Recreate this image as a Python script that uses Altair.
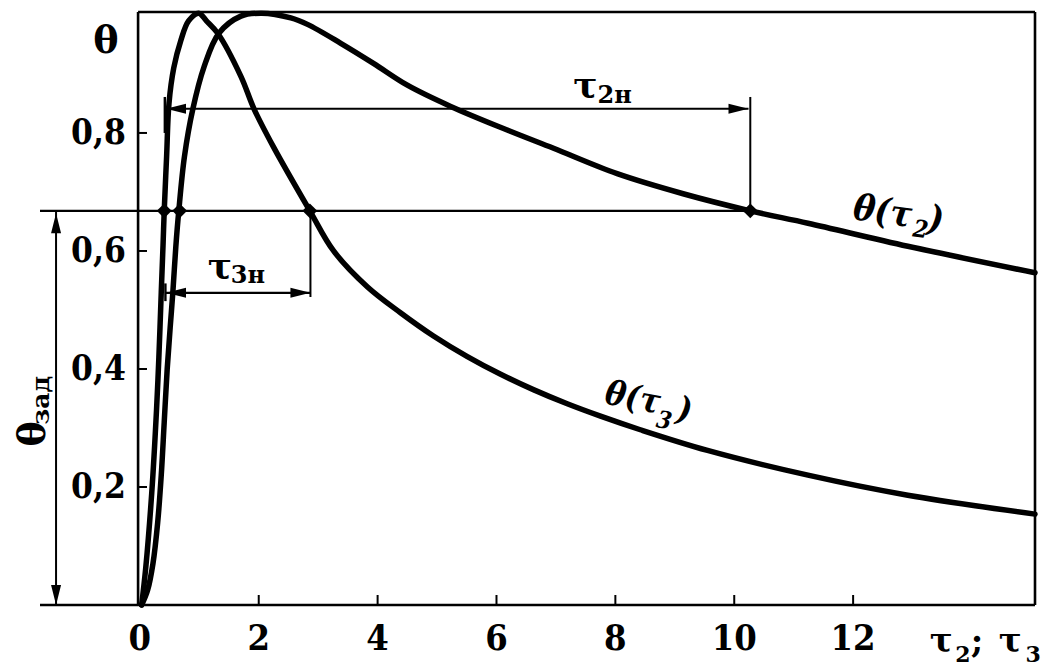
import altair as alt
import pandas as pd

# ---------------- data ----------------
t2_tau = [0.03, 0.13, 0.22, 0.30, 0.36, 0.41, 0.46, 0.51, 0.555, 0.605, 0.655, 0.75, 0.89,
          1.08, 1.33, 1.70, 2.05, 2.54, 2.82, 3.38, 3.93, 4.50, 5.23, 6.18, 6.96, 8.03,
          9.14, 10.27, 11.24, 12.92, 15.06]
t2_theta = [0.0, 0.025, 0.07, 0.14, 0.22, 0.31, 0.40, 0.47, 0.53, 0.607, 0.668, 0.76, 0.84,
            0.912, 0.969, 0.998, 1.003, 0.995, 0.984, 0.952, 0.918, 0.881, 0.845, 0.805, 0.774,
            0.731, 0.697, 0.668, 0.647, 0.608, 0.563]
t3_tau = [0.03, 0.10, 0.20, 0.28, 0.32, 0.36, 0.39, 0.41, 0.45, 0.49, 0.57, 0.69, 0.82, 0.99,
          1.12, 1.31, 1.70, 1.92, 2.25, 2.86, 3.26, 3.83, 4.39, 4.94, 5.51, 6.07, 6.62, 7.19,
          7.75, 8.42, 9.55, 11.24, 12.92, 15.06]
t3_theta = [0.0, 0.064, 0.19, 0.33, 0.42, 0.53, 0.61, 0.668, 0.76, 0.85, 0.91, 0.957, 0.99,
            1.003, 0.99, 0.969, 0.896, 0.841, 0.776, 0.668, 0.60, 0.539, 0.495, 0.456, 0.421,
            0.391, 0.365, 0.341, 0.320, 0.297, 0.262, 0.220, 0.186, 0.154]

theta_set = 0.668
cross_tau = [0.41, 0.67, 2.86, 10.27]
tau2n = [0.44, 10.24, 0.841]
tau3n = [0.44, 2.87, 0.529]

x_ticks = [0, 2, 4, 6, 8, 10, 12]
x_tick_labels = ["0", "2", "4", "6", "8", "10", "12"]
y_ticks = [0.2, 0.4, 0.6, 0.8]
y_tick_labels = ["0,2", "0,4", "0,6", "0,8"]

X0, X1 = -1.68, 15.06
Y0, Y1 = 0.0, 1.005
FL = -0.03
W, H = 995, 593
SERIF = "DejaVu Serif"
COND = "DejaVu Serif Condensed"


def xenc(f="x"):
    return alt.X(f"{f}:Q", scale=alt.Scale(domain=[X0, X1], nice=False, zero=False), axis=None)


def yenc(f="y"):
    return alt.Y(f"{f}:Q", scale=alt.Scale(domain=[Y0, Y1], nice=False, zero=False), axis=None)


curve_df = pd.concat([
    pd.DataFrame({"tau": t2_tau, "theta": t2_theta, "series": "t2"}),
    pd.DataFrame({"tau": t3_tau, "theta": t3_theta, "series": "t3"}),
])
curves = alt.Chart(curve_df).mark_line(
    color="black", strokeWidth=5.5, interpolate="catmull-rom", strokeCap="round"
).encode(x=xenc("tau"), y=yenc("theta"), detail="series:N", order="tau:Q")

segs = []
segs.append((X0, 0.0, X1, 0.0, 2.6))
segs.append((FL, 0.0, FL, Y1, 2.6))
segs.append((FL, Y1, X1, Y1, 2.6))
segs.append((X1, 0.0, X1, Y1, 2.6))
segs.append((X0, theta_set, cross_tau[-1], theta_set, 2.4))
segs.append((-1.41, 0.0, -1.41, theta_set, 2.0))
segs.append((tau2n[0], tau2n[2], tau2n[1], tau2n[2], 2.2))
segs.append((cross_tau[-1], theta_set, cross_tau[-1], 0.861, 2.0))
segs.append((0.42, 0.80, 0.42, 0.861, 2.4))
segs.append((tau3n[0], tau3n[2], tau3n[1], tau3n[2], 2.2))
segs.append((tau3n[1], theta_set, tau3n[1], 0.522, 2.0))
segs.append((0.43, 0.545, 0.43, 0.515, 2.4))
for t in x_ticks[1:]:
    segs.append((t, 0.0, t, 0.017, 2.0))
for v in y_ticks:
    segs.append((FL, v, FL + 0.15, v, 2.0))
seg_df = pd.DataFrame(segs, columns=["x", "y", "x2", "y2", "w"])
rules = alt.Chart(seg_df).mark_rule(color="black").encode(
    x=xenc("x"), y=yenc("y"), x2=alt.X2("x2:Q"), y2=alt.Y2("y2:Q"),
    strokeWidth=alt.StrokeWidth("w:Q", scale=None),
)

LEFT = "M0,0L2,-0.5L2,0.5Z"
RIGHT = "M0,0L-2,-0.5L-2,0.5Z"
UP = "M0,0L-0.5,2L0.5,2Z"
DOWN = "M0,0L-0.5,-2L0.5,-2Z"
arrow_df = pd.DataFrame({
    "x": [tau2n[0], tau2n[1], tau3n[0], tau3n[1], -1.41, -1.41],
    "y": [tau2n[2], tau2n[2], tau3n[2], tau3n[2], 0.664, 0.0],
    "shape": [LEFT, RIGHT, LEFT, RIGHT, UP, DOWN],
})
arrows = alt.Chart(arrow_df).mark_point(
    filled=True, color="black", size=400, opacity=1, strokeWidth=0
).encode(x=xenc("x"), y=yenc("y"), shape=alt.Shape("shape:N", scale=None))

dot_df = pd.DataFrame({"x": cross_tau, "y": [theta_set] * len(cross_tau)})
dots = alt.Chart(dot_df).mark_point(
    shape="diamond", filled=True, color="black", size=220, opacity=1
).encode(x=xenc("x"), y=yenc("y"))


def text_layer(rows, align, baseline, font, italic=False, weight="bold"):
    df = pd.DataFrame(rows, columns=["x", "y", "text", "size", "angle"])
    return alt.Chart(df).mark_text(
        font=font, fontWeight=weight, fontStyle="italic" if italic else "normal",
        align=align, baseline=baseline, color="black",
    ).encode(
        x=xenc("x"), y=yenc("y"), text="text:N",
        size=alt.Size("size:Q", scale=None),
        angle=alt.Angle("angle:Q", scale=None),
    )


ylab = text_layer([(-0.235, v, s, 35, 0) for v, s in zip(y_ticks, y_tick_labels)], "right", "middle", COND)
xlab = text_layer([(v, -0.076, s, 36, 0) for v, s in zip(x_ticks, x_tick_labels)], "center", "alphabetic", COND)
theta_top = text_layer([(-0.57, 0.954, "θ", 38, 0)], "center", "middle", SERIF)
thzad = text_layer([(-1.78, 0.29, "θ", 38, 270), (-1.665, 0.347, "зад", 25, 270)], "center", "middle", SERIF)
upright = text_layer([
    (7.29, 0.861, "τ", 36, 0), (7.70, 0.851, "2н", 24, 0),
    (1.143, 0.554, "τ", 36, 0), (1.53, 0.546, "3н", 24, 0),
    (13.29, -0.080, "τ", 34, 0), (13.72, -0.097, "2", 22, 0),
    (13.98, -0.080, ";", 34, 0),
    (14.45, -0.080, "τ", 34, 0), (14.90, -0.097, "3", 22, 0),
], "left", "alphabetic", SERIF)
italic = text_layer([
    (11.98, 0.654, "θ(τ", 36, 8), (12.99, 0.625, "2", 24, 8), (13.24, 0.636, ")", 36, 8),
    (7.80, 0.342, "θ(τ", 34, 11), (8.67, 0.302, "3", 24, 11), (9.01, 0.315, ")", 34, 11),
], "left", "alphabetic", COND, italic=True)

chart = alt.layer(
    rules, curves, arrows, dots, ylab, xlab, theta_top, thzad, upright, italic
).properties(
    width=W, height=H,
    padding={"left": 32, "top": 4, "right": 8, "bottom": 62},
    autosize=alt.AutoSizeParams(type="none"),
    background="white",
).configure_view(stroke=None)

chart.save("out.html", embed_options={"renderer": "svg", "actions": False})
